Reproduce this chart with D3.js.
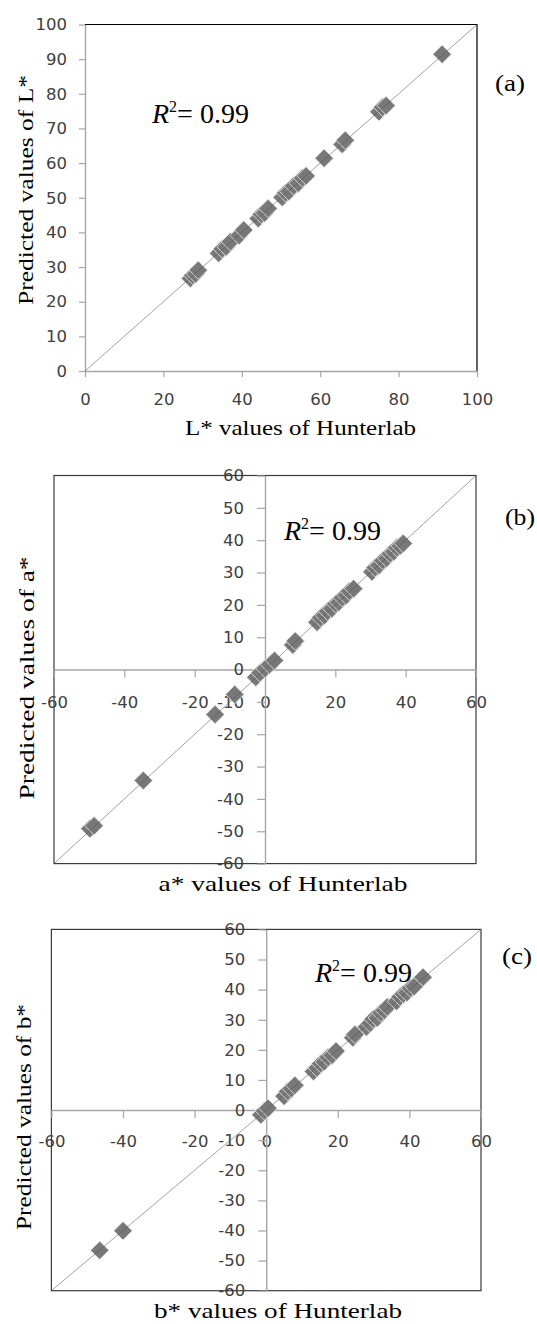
<!DOCTYPE html>
<html>
<head>
<meta charset="utf-8">
<script src="https://cdn.jsdelivr.net/npm/d3@7/dist/d3.min.js"></script>
<style>
  body { margin: 0; background: #fff; }
  svg { display: block; }
</style>
</head>
<body>
<script>
'use strict';

// (a) L* : Hunterlab vs predicted
const lHunter = [26.9, 27.5, 28.2, 28.9, 34.1, 35.0, 36.0, 37.1, 39.3, 40.5,
  44.2, 45.0, 45.8, 46.7, 50.3, 51.2, 52.0, 53.2, 54.4, 55.5, 56.4,
  61.0, 65.6, 66.4, 75.0, 75.9, 76.8, 91.1];
const lPredicted = [26.7, 27.6, 28.0, 29.1, 34.0, 35.2, 35.8, 37.3, 39.1, 40.7,
  44.0, 45.2, 45.6, 46.9, 50.1, 51.4, 51.8, 53.4, 54.2, 55.7, 56.3,
  61.4, 65.4, 66.6, 74.8, 76.1, 76.6, 91.4];

// (b) a*
const aHunter = [-49.8, -48.6, -34.6, -14.2, -8.6, -2.6, -1.4, 0.0, 1.3, 2.7,
  7.9, 8.6, 14.8, 15.8, 16.9, 17.8, 19.0, 20.1, 21.0, 22.0, 23.1, 24.0, 25.2,
  30.4, 31.3, 32.4, 33.5, 34.6, 35.6, 36.6, 37.5, 38.4, 39.3];
const aPredicted = [-49.2, -48.3, -34.3, -13.9, -7.7, -2.4, -1.0, 0.3, 1.5, 2.8,
  7.6, 8.8, 14.6, 16.0, 16.7, 18.0, 18.8, 20.3, 20.8, 22.2, 22.9, 24.2, 25.0,
  30.2, 31.5, 32.2, 33.7, 34.4, 35.8, 36.4, 37.7, 38.2, 39.0];

// (c) b*
const bHunter = [-46.5, -40.0, -1.5, -0.5, 0.5, 5.0, 6.0, 7.0, 8.0,
  13.2, 14.2, 15.2, 16.2, 17.3, 18.4, 19.5, 24.2, 24.8,
  28.0, 29.0, 29.9, 31.0, 32.0, 33.0, 33.8, 36.4, 37.4, 38.3, 39.3, 40.3, 41.3, 43.8];
const bPredicted = [-46.6, -40.1, -1.6, -0.3, 0.6, 4.6, 6.2, 7.1, 8.2,
  12.8, 14.0, 15.4, 16.0, 17.5, 18.2, 19.6, 24.0, 25.1,
  27.6, 28.8, 30.2, 30.6, 32.3, 33.1, 34.2, 36.1, 37.6, 38.5, 39.0, 40.5, 41.0, 44.1];

// tick values
const lXTicks = [0, 20, 40, 60, 80, 100];
const lYTicks = [0, 10, 20, 30, 40, 50, 60, 70, 80, 90, 100];
const abXTicks = [-60, -40, -20, 0, 20, 40, 60];
const abYTicks = [-60, -50, -40, -30, -20, -10, 0, 10, 20, 30, 40, 50, 60];

const rSquared = '0.99';

(function() {
  const svg = d3
    .select('body')
    .append('svg')
    .attr('width', 537)
    .attr('height', 1324);

  const axisGray = '#a6a6a6';
  const tickFont = '"DejaVu Sans", sans-serif';
  const serif = '"Liberation Serif", "Times New Roman", serif';

  // panel layouts (pixel boxes only)
  const panels = [
    {
      id: 'a', hunter: lHunter, predicted: lPredicted,
      domain: [0, 100], xRange: [85, 477], yRange: [371, 24.5],
      xTicks: lXTicks, yTicks: lYTicks, crossed: false,
      xPad: 16, yPad: 12,
      xTitle: 'L* values of Hunterlab', xTitlePos: [300.5, 435, 231],
      yTitle: 'Predicted values of L*', yTitlePos: [33, 190, 230],
      r2Pos: [152, 123], tag: '(a)', tagPos: [495, 91]
    },
    {
      id: 'b', hunter: aHunter, predicted: aPredicted,
      domain: [-60, 60], xRange: [54, 476], yRange: [863.6, 475.5],
      xTicks: abXTicks, yTicks: abYTicks, crossed: true,
      xPad: 19, yPad: 13,
      xTitle: 'a* values of Hunterlab', xTitlePos: [283, 891, 249],
      yTitle: 'Predicted values of a*', yTitlePos: [34, 678, 243],
      r2Pos: [284, 540], tag: '(b)', tagPos: [505, 525]
    },
    {
      id: 'c', hunter: bHunter, predicted: bPredicted,
      domain: [-60, 60], xRange: [51.4, 481], yRange: [1290.7, 929.4],
      xTicks: abXTicks, yTicks: abYTicks, crossed: true,
      xPad: 17, yPad: 13,
      xTitle: 'b* values of Hunterlab', xTitlePos: [278, 1318, 248],
      yTitle: 'Predicted values of b*', yTitlePos: [31, 1117, 226],
      r2Pos: [315, 982], tag: '(c)', tagPos: [502, 964]
    }
  ];

  panels.forEach(drawPanel);

  // draw one scatter panel
  function drawPanel(p) {
    const g = svg.append('g').attr('class', 'panel-' + p.id);

    const xScale = d3.scaleLinear().domain(p.domain).range(p.xRange);
    const yScale = d3.scaleLinear().domain(p.domain).range(p.yRange);

    const left = p.xRange[0];
    const right = p.xRange[1];
    const top = p.yRange[1];
    const bottom = p.yRange[0];

    // frame
    if (p.crossed) {
      g.append('rect')
        .attr('x', left)
        .attr('y', top)
        .attr('width', right - left)
        .attr('height', bottom - top)
        .attr('fill', 'none')
        .attr('stroke', '#3a3a3a')
        .attr('stroke-width', 1.2);
    } else {
      g.append('path')
        .attr('d', `M${left},${top}H${right}V${bottom}`)
        .attr('fill', 'none')
        .attr('stroke', '#000')
        .attr('stroke-width', 1.2);
    }

    // axes: at the edges for (a), through the origin for (b) and (c)
    const xAxisY = p.crossed ? yScale(0) : bottom;
    const yAxisX = p.crossed ? xScale(0) : left;

    // plain hyphen for negatives, like the original
    const fmt = d => String(d);

    const xAxis = d3
      .axisBottom(xScale)
      .tickValues(p.xTicks)
      .tickFormat(fmt)
      .tickSize(p.crossed ? 8 : 6)
      .tickSizeOuter(0)
      .tickPadding(p.xPad);
    const yAxis = d3
      .axisLeft(yScale)
      .tickValues(p.yTicks)
      .tickFormat(fmt)
      .tickSize(p.crossed ? 8 : 6)
      .tickSizeOuter(0)
      .tickPadding(p.yPad);

    const gx = g
      .append('g')
      .attr('transform', 'translate(0,' + xAxisY + ')')
      .call(xAxis);
    const gy = g
      .append('g')
      .attr('transform', 'translate(' + yAxisX + ',0)')
      .call(yAxis);

    [gx, gy].forEach(ax => {
      ax.select('.domain').attr('stroke', axisGray).attr('stroke-width', 1.4);
      ax.selectAll('.tick line').attr('stroke', axisGray).attr('stroke-width', 1.2);
      ax.selectAll('.tick text')
        .attr('fill', '#404040')
        .style('font-family', tickFont)
        .style('font-size', '16.5px');
    });

    // data markers (grey diamonds)
    const diamond = d3.symbol().type(d3.symbolSquare).size(170);
    g.append('g')
      .selectAll('path')
      .data(p.hunter)
      .enter()
      .append('path')
      .attr('d', diamond)
      .attr('transform', (d, i) =>
        'translate(' + xScale(d) + ',' + yScale(p.predicted[i]) + ')rotate(45)')
      .attr('fill', '#787878')
      .attr('stroke', '#e4e4e4')
      .attr('stroke-width', 0.8);

    // 1:1 line
    g.append('line')
      .attr('x1', xScale(p.domain[0]))
      .attr('y1', yScale(p.domain[0]))
      .attr('x2', xScale(p.domain[1]))
      .attr('y2', yScale(p.domain[1]))
      .attr('stroke', '#555')
      .attr('stroke-width', 0.55);

    // R squared text
    const r2 = g.append('text')
      .attr('x', p.r2Pos[0])
      .attr('y', p.r2Pos[1])
      .style('font-family', serif)
      .style('font-size', '28px')
      .attr('fill', '#000');
    r2.append('tspan').style('font-style', 'italic').text('R');
    r2.append('tspan')
      .attr('dy', -11)
      .style('font-size', '16px')
      .text('2');
    r2.append('tspan').attr('dy', 11).text('= ' + rSquared);

    // panel tag
    g.append('text')
      .attr('x', p.tagPos[0])
      .attr('y', p.tagPos[1])
      .attr('textLength', 30)
      .attr('lengthAdjust', 'spacingAndGlyphs')
      .style('font-family', serif)
      .style('font-size', '24px')
      .text(p.tag);

    // axis titles
    g.append('text')
      .attr('x', p.xTitlePos[0])
      .attr('y', p.xTitlePos[1])
      .attr('text-anchor', 'middle')
      .attr('textLength', p.xTitlePos[2])
      .attr('lengthAdjust', 'spacingAndGlyphs')
      .style('font-family', serif)
      .style('font-size', '22px')
      .text(p.xTitle);

    g.append('text')
      .attr('transform',
        'translate(' + p.yTitlePos[0] + ',' + p.yTitlePos[1] + ')rotate(-90)')
      .attr('text-anchor', 'middle')
      .attr('textLength', p.yTitlePos[2])
      .attr('lengthAdjust', 'spacingAndGlyphs')
      .style('font-family', serif)
      .style('font-size', '22px')
      .text(p.yTitle);
  }
})();
</script>
</body>
</html>
